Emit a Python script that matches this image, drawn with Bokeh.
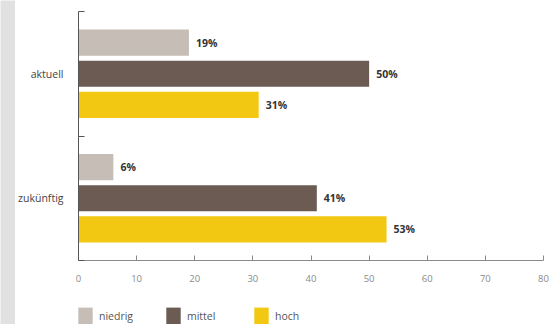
from bokeh.plotting import figure
from bokeh.models import (ColumnDataSource, FixedTicker, LabelSet, Legend, LegendItem, Range1d)
from bokeh.layouts import row, column
from bokeh.core.properties import value
from bokeh.embed import file_html
from bokeh.resources import INLINE

categories = ["aktuell", "zukünftig"]
levels = ["niedrig", "mittel", "hoch"]
niedrig = [19, 6]
mittel = [50, 41]
hoch = [31, 53]
x_ticks = [0, 10, 20, 30, 40, 50, 60, 70, 80]

colors = {"niedrig": "#c5bdb6", "mittel": "#6b5b53", "hoch": "#f3c813"}
series = {"niedrig": niedrig, "mittel": mittel, "hoch": hoch}
offsets = {"niedrig": 0.25, "mittel": 0.0, "hoch": -0.25}
FONT = "Open Sans"

n = len(categories)
centers = [n - i - 0.5 for i in range(n)]  # aktuell on top

p = figure(width=541, height=290, output_backend="svg", toolbar_location=None,
           x_range=Range1d(0, 80), y_range=Range1d(0, n),
           min_border_left=62, min_border_right=13, min_border_top=11, min_border_bottom=30)
p.outline_line_color = None
p.xgrid.grid_line_color = None
p.ygrid.grid_line_color = None
p.background_fill_color = "white"
p.border_fill_color = "white"

for lvl in levels:
    ys = [c + offsets[lvl] for c in centers]
    src = ColumnDataSource(dict(y=ys, v=series[lvl], t=[f"{v}%" for v in series[lvl]]))
    p.hbar(y="y", right="v", left=0, height=0.21, source=src,
           fill_color=colors[lvl], line_color=None)
    p.add_layout(LabelSet(x="v", y="y", text="t", source=src, x_offset=7,
                          text_baseline="middle", text_font=value(FONT),
                          text_font_size="10.5px", text_font_style="bold",
                          text_color="#333333"))

# x axis
xa = p.xaxis[0]
xa.ticker = FixedTicker(ticks=x_ticks)
xa.major_tick_in = 5
xa.major_tick_out = 0
xa.minor_tick_line_color = None
xa.axis_line_color = "#8a8a8a"
xa.major_tick_line_color = "#8a8a8a"
xa.major_label_text_font = FONT
xa.major_label_text_font_size = "9.5px"
xa.major_label_text_color = "#8a8a8a"
xa.major_label_standoff = 14

# y axis
ya = p.yaxis[0]
ya.ticker = FixedTicker(ticks=centers, minor_ticks=[0, 1, 2])
ya.major_label_overrides = {c: cat for c, cat in zip(centers, categories)}
ya.major_tick_line_color = None
ya.minor_tick_in = 6
ya.minor_tick_out = 0
ya.minor_tick_line_color = "#555555"
ya.axis_line_color = "#555555"
ya.major_label_text_font = FONT
ya.major_label_text_font_size = "10.5px"
ya.major_label_text_color = "#444444"
ya.major_label_standoff = 9

# legend in its own strip below the chart
lg = figure(width=541, height=34, output_backend="svg", toolbar_location=None,
            x_range=Range1d(0, 1), y_range=Range1d(0, 1),
            min_border_left=62, min_border_right=13, min_border_top=0, min_border_bottom=0)
lg.axis.visible = False
lg.grid.visible = False
lg.outline_line_color = None
items = []
for lvl in levels:
    # off-screen proxy renderer, only used for the legend swatch
    r = lg.hbar(y=[-10], right=[0], left=0, height=0.2, fill_color=colors[lvl], line_color=None)
    items.append(LegendItem(label=lvl, renderers=[r]))
legend = Legend(items=items, orientation="horizontal", location=(-2, -2),
                glyph_width=18, glyph_height=21, label_standoff=5,
                label_width=62, spacing=3, padding=0, margin=0,
                border_line_color=None, background_fill_alpha=0,
                label_text_font=FONT, label_text_font_size="10.5px",
                label_text_color="#555555")
lg.add_layout(legend)

strip = figure(width=15, height=324, output_backend="svg", toolbar_location=None,
               min_border=0, x_range=Range1d(0, 1), y_range=Range1d(0, 1))
strip.axis.visible = False
strip.grid.visible = False
strip.outline_line_color = None
strip.background_fill_color = "#e1e1e1"
strip.border_fill_color = "#e1e1e1"

layout = row(strip, column(p, lg, spacing=0), spacing=0)
open("out.html", "w").write(file_html(layout, INLINE))
